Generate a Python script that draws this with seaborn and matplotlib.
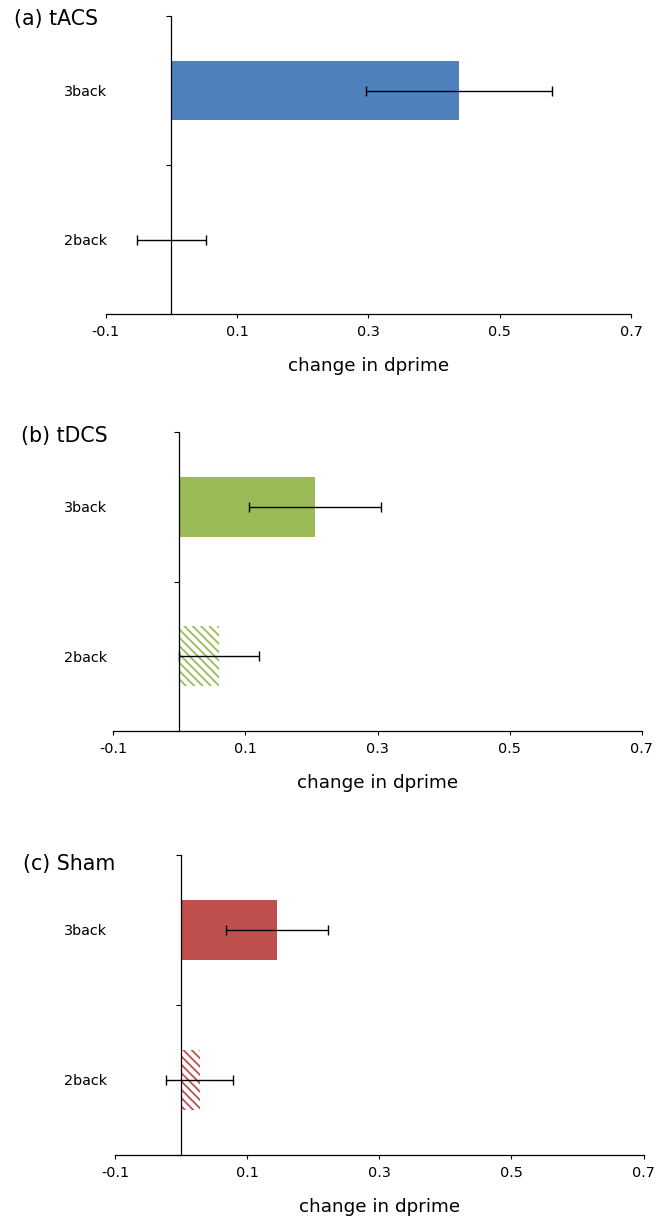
import numpy as np
import pandas as pd
import matplotlib
matplotlib.use('Agg')
import matplotlib.pyplot as plt
import seaborn as sb

# data
tasks = ['3back', '2back']
panel_titles = ['(a) tACS', '(b) tDCS', '(c) Sham']
tacs_mean = [0.438, 0.0]
tacs_err = [0.141, 0.053]
tdcs_mean = [0.205, 0.060]
tdcs_err = [0.100, 0.060]
sham_mean = [0.145, 0.028]
sham_err = [0.077, 0.051]
bar_colors = ['#4F81BD', '#9BBB59', '#C0504D']
xticks = [-0.1, 0.1, 0.3, 0.5, 0.7]
xtick_labels = ['-0.1', '0.1', '0.3', '0.5', '0.7']

means = [tacs_mean, tdcs_mean, sham_mean]
errs = [tacs_err, tdcs_err, sham_err]

sb.set_theme(style='white')
plt.rcParams['font.family'] = ['DejaVu Sans']
plt.rcParams['text.color'] = 'black'
plt.rcParams['axes.labelcolor'] = 'black'
plt.rcParams['xtick.color'] = 'black'
plt.rcParams['ytick.color'] = 'black'
plt.rcParams['hatch.linewidth'] = 1.3

W, H = 665, 1222
fig = plt.figure(figsize=(W / 100, H / 100), dpi=100)

# axes boxes in pixels: left, right, top, bottom
boxes = [(105.7, 631.0, 16.0, 314.0),
         (113.3, 641.7, 432.0, 731.0),
         (115.0, 643.5, 854.5, 1155.0)]
title_pos = [(14, 18.5), (20.7, 436), (22.8, 864)]
label_right = 107

for k in range(3):
    l, r, t, b = boxes[k]
    ax = fig.add_axes([l / W, 1 - b / H, (r - l) / W, (b - t) / H])
    df = pd.DataFrame({'task': tasks, 'change': means[k]})
    sb.barplot(data=df, x='change', y='task', orient='h', color=bar_colors[k],
               saturation=1, width=0.4, linewidth=0, ax=ax)
    # the 2back bar is hatched in tDCS and Sham
    if k > 0:
        p = ax.patches[1]
        p.set_facecolor('white')
        p.set_edgecolor(bar_colors[k])
        p.set_hatch('\\\\\\\\')
        p.set_linewidth(0)
    ax.errorbar(means[k], np.arange(len(tasks)), xerr=errs[k], fmt='none',
                ecolor='black', elinewidth=1.0, capsize=3.3, capthick=1.0)

    ax.set_xlim(-0.1, 0.7)
    ax.set_ylim(1.5, -0.5)
    for s in ['top', 'right']:
        ax.spines[s].set_visible(False)
    ax.spines['left'].set_position(('data', 0))
    for s in ['left', 'bottom']:
        ax.spines[s].set_color('black')
        ax.spines[s].set_linewidth(0.9)

    ax.set_xticks(xticks)
    ax.set_xticklabels(xtick_labels)
    ax.tick_params(axis='x', bottom=True, direction='out', length=3, width=0.8,
                   pad=5, labelsize=10.4)

    spine_px = l + 0.1 / 0.8 * (r - l)
    ax.set_yticks([0, 1])
    ax.set_yticklabels(tasks)
    ax.tick_params(axis='y', which='major', left=True, length=0,
                   pad=(spine_px - label_right) * 0.72, labelsize=10.4)
    ax.set_yticks([-0.5, 0.5, 1.5], minor=True)
    ax.tick_params(axis='y', which='minor', left=True, direction='out',
                   length=3.6, width=0.8)

    ax.set_ylabel('')
    ax.set_xlabel('change in dprime', fontsize=13.2)
    ax.xaxis.set_label_coords(0.5, -52 / (b - t))
    ax.xaxis.label.set_va('center')

    tx, ty = title_pos[k]
    fig.text(tx / W, 1 - ty / H, panel_titles[k], fontsize=14.8,
             ha='left', va='center')

fig.savefig('out.png', dpi=100)
